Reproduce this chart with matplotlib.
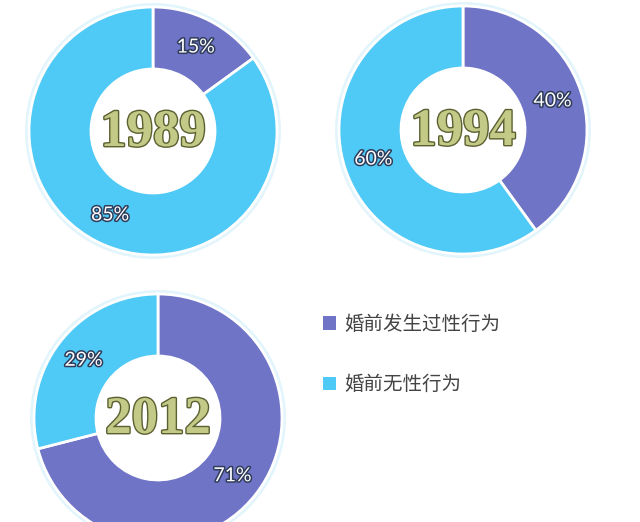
import matplotlib.pyplot as plt
import matplotlib.patheffects as pe

plt.rcParams['font.family'] = ['Noto Sans CJK SC', 'DejaVu Sans']

# Données
years = ['1989', '1994', '2012']
avec = [15, 40, 71]      # 婚前发生过性行为 (%)
sans = [85, 60, 29]      # 婚前无性行为 (%)
legend_labels = ['婚前发生过性行为', '婚前无性行为']

purple = '#6f74c6'
cyan = '#4fc9f5'

# centres des anneaux (pixels, y vers le haut)
centres = [(153, 522 - 131), (463, 522 - 130), (158, 522 - 418)]
R = 124

fig = plt.figure(figsize=(6.4, 5.22), dpi=100)
ax = fig.add_axes([0, 0, 1, 1])

wedges_all = []
for year, a, s, c in zip(years, avec, sans, centres):
    # halo léger
    ax.pie([1], radius=R + 4, center=c, colors=['#e3f5fc'],
           wedgeprops=dict(width=10, linewidth=0), frame=False)
    wedges, texts, autotexts = ax.pie(
        [a, s], radius=R, center=c, colors=[purple, cyan],
        startangle=90, counterclock=False,
        autopct='%d%%', pctdistance=0.76,
        wedgeprops=dict(width=R * 0.5, edgecolor='white', linewidth=2),
        textprops=dict(color='white', fontsize=14, family=['Lato', 'DejaVu Sans']),
        frame=False)
    for t in autotexts:
        t.set_path_effects([pe.withStroke(linewidth=2.2, foreground='#2f3c5a')])
    wedges_all.append(wedges)
    ax.text(c[0], c[1] - 2, year, ha='center', va='center', fontsize=38,
            fontweight='bold', family=['Liberation Serif', 'DejaVu Serif'],
            color='#c3c986',
            path_effects=[pe.withStroke(linewidth=2, foreground='#5b6030')])

ax.set_xlim(0, 640)
ax.set_ylim(0, 522)
ax.set_aspect('equal')
ax.axis('off')

leg = ax.legend(wedges_all[0], legend_labels, loc='upper left',
                bbox_to_anchor=(305 / 640, 1 - 296 / 522), frameon=False,
                fontsize=14, handlelength=0.7, handleheight=0.7,
                handletextpad=0.4, labelspacing=2.05, labelcolor='#444444')
for h in leg.legend_handles:
    h.set_edgecolor('none')

fig.savefig('out.png', dpi=100, facecolor='white')
